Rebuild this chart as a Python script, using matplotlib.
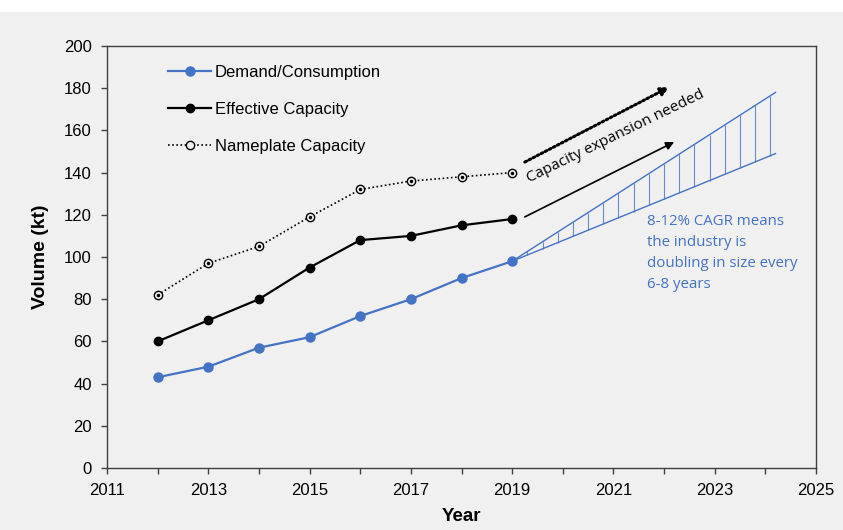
import numpy as np
import matplotlib
matplotlib.use("Agg")
import matplotlib.pyplot as plt
from matplotlib.patches import Rectangle
from matplotlib.ticker import MultipleLocator

years = [2012, 2013, 2014, 2015, 2016, 2017, 2018, 2019]
demand = [43, 48, 57, 62, 72, 80, 90, 98]
effective = [60, 70, 80, 95, 108, 110, 115, 118]
nameplate = [82, 97, 105, 119, 132, 136, 138, 140]

proj_years = [2019, 2024.2]
proj_upper = [98, 178]
proj_lower = [98, 149]

x_ticks = [2011, 2013, 2015, 2017, 2019, 2021, 2023, 2025]
y_ticks = [0, 20, 40, 60, 80, 100, 120, 140, 160, 180, 200]

BLUE = "#4472C4"
BG = "#f0f0f0"
plt.rcParams['font.family'] = ['Liberation Sans', 'DejaVu Sans']

fig = plt.figure(figsize=(8.43, 5.30), dpi=100, facecolor=BG)
fig.patches.append(Rectangle((0, (530 - 12) / 530), 1, 12 / 530, transform=fig.transFigure,
                             facecolor="white", edgecolor="none", zorder=-1))
ax = fig.add_axes([107 / 843, 62 / 530, (816 - 107) / 843, (468 - 46) / 530])
ax.set_facecolor(BG)

ax.plot(years, demand, color=BLUE, lw=1.6, marker='o', ms=6.5, label="Demand/Consumption", zorder=4)
ax.plot(years, effective, color="black", lw=1.6, marker='o', ms=6, label="Effective Capacity", zorder=4)
ax.plot(years, nameplate, color="black", lw=1.2, ls=(0, (1, 1.5)), marker='o', ms=6,
        mfc=BG, mec="black", mew=1, label="Nameplate Capacity", zorder=4)
ax.plot(years, nameplate, ls="none", marker='o', ms=1.5, color="black", zorder=5)

# projection cone
ax.plot(proj_years, proj_upper, color=BLUE, lw=1, zorder=3)
ax.plot(proj_years, proj_lower, color=BLUE, lw=1, zorder=3)
hx = np.arange(2019.3, 2024.25, 0.3)
ax.vlines(hx, np.interp(hx, proj_years, proj_lower), np.interp(hx, proj_years, proj_upper),
          color=BLUE, lw=0.8, alpha=0.8, zorder=3)

# arrows
ax.annotate("", xy=(2022.1, 180.5), xytext=(2019.25, 145),
            arrowprops=dict(arrowstyle="-|>", lw=2.2, ls=(0, (0.6, 0.9)), color="black",
                            mutation_scale=12, shrinkA=0, shrinkB=0))
ax.annotate("", xy=(2022.2, 154.5), xytext=(2019.25, 119),
            arrowprops=dict(arrowstyle="-|>", lw=1.2, color="black",
                            mutation_scale=12, shrinkA=0, shrinkB=0))
ax.text(2021.05, 157, "Capacity expansion needed", rotation=26, ha="center", va="center",
        rotation_mode="anchor", fontsize=11, family=["Open Sans", "DejaVu Sans"], color="black")
ax.text(2021.67, 120.5, "8-12% CAGR means\nthe industry is\ndoubling in size every\n6-8 years",
        ha="left", va="top", fontsize=10.8, color=BLUE, linespacing=1.55,
        family=["Open Sans", "DejaVu Sans"])

ax.set_xlim(2011, 2025)
ax.set_ylim(0, 200)
ax.set_xticks(x_ticks)
ax.set_yticks(y_ticks)
ax.xaxis.set_minor_locator(MultipleLocator(1))
ax.tick_params(axis="both", direction="out", labelsize=12, length=4, width=1, color="#404040", pad=7)
ax.tick_params(axis="x", which="minor", direction="out", length=4, width=1, color="#404040")
for s in ax.spines.values():
    s.set_color("#404040")
    s.set_linewidth(1)
ax.set_xlabel("Year", fontsize=13.5, fontweight="bold", labelpad=7)
ax.set_ylabel("Volume (kt)", fontsize=14, fontweight="bold", labelpad=11)

ax.legend(loc="upper left", bbox_to_anchor=(0.065, 0.99), frameon=False, fontsize=12,
          handlelength=2.6, labelspacing=1.3, handletextpad=0.2)

fig.savefig("out.png", dpi=100, facecolor=BG)
